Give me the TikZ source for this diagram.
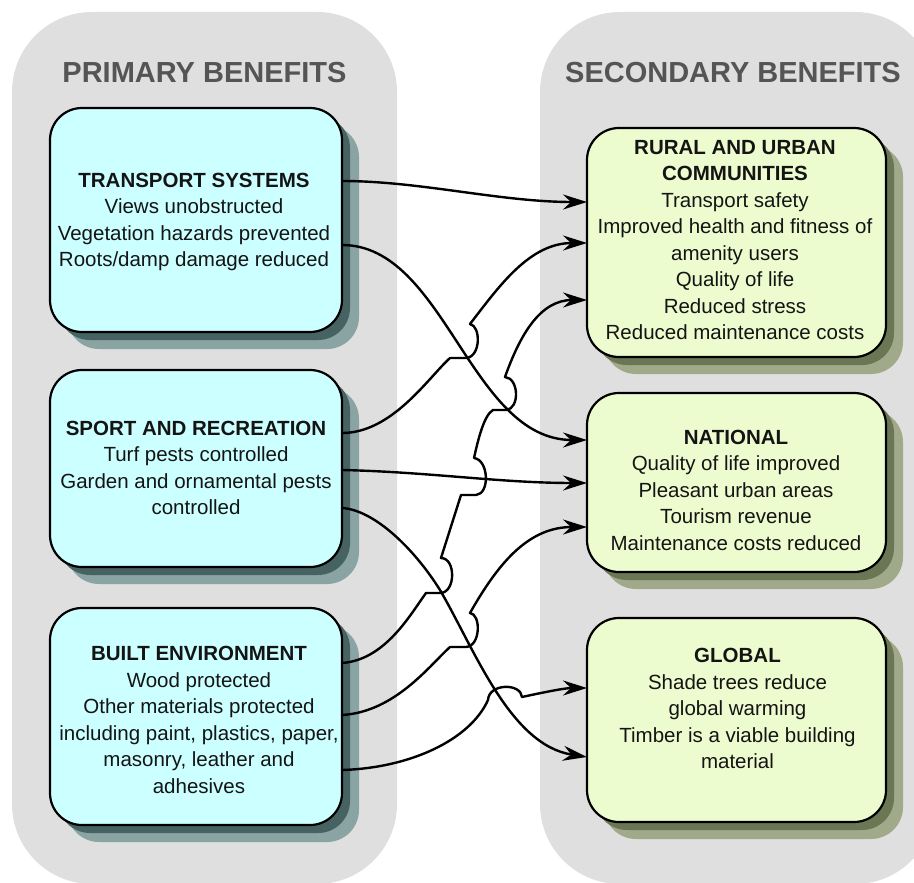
\documentclass[tikz,border=0pt]{standalone}
\usepackage{fontspec}
\setmainfont{Liberation Sans}
\usetikzlibrary{arrows.meta,shadows}
\definecolor{panel}{HTML}{DFDFDF}
\definecolor{cyanbox}{HTML}{CCFFFF}
\definecolor{greenbox}{HTML}{EDFCCF}
\definecolor{lshA}{HTML}{8AA4A4}
\definecolor{lshB}{HTML}{466262}
\definecolor{rshA}{HTML}{A0A98A}
\definecolor{rshB}{HTML}{6A7654}
\definecolor{hdr}{HTML}{555555}
\definecolor{txt}{HTML}{141414}
\begin{document}
\begin{tikzpicture}[x=1pt,y=-1pt,
  panelbox/.style={fill=panel, rounded corners=80pt},
  boxbase/.style={draw=black, line width=2.2pt, rounded corners=32pt, inner sep=0pt, outer sep=0pt},
  lbox/.style={boxbase, fill=cyanbox, minimum width=292pt,
     general shadow={fill=lshA, shadow xshift=17pt, shadow yshift=-17pt},
     general shadow={fill=lshB, shadow xshift=8pt, shadow yshift=-8pt}},
  rbox/.style={boxbase, fill=greenbox, minimum width=299pt,
     general shadow={fill=rshA, shadow xshift=17pt, shadow yshift=-17pt},
     general shadow={fill=rshB, shadow xshift=8pt, shadow yshift=-8pt}},
  btxt/.style={align=center, inner sep=0pt, text=txt, font=\fontsize{20.5}{26.5}\selectfont},
  hdrtxt/.style={inner sep=0pt, text=hdr, font=\fontsize{29}{34}\selectfont\bfseries},
  conn/.style={draw=black, line width=2.4pt, line join=round,
     -{Stealth[length=24pt,width=15pt,inset=8pt]}}
]
\useasboundingbox (0,0) rectangle (914,883);
\clip (0,0) rectangle (914,883);
% panels
\fill[panelbox] (12,12) rectangle (397,884);
\fill[panelbox] (540,12) rectangle (935,884);
\node[hdrtxt] (h1) at (204.5,73) {PRIMARY BENEFITS};
\node[hdrtxt] (h2) at (733,73) {SECONDARY BENEFITS};
% left boxes
\node[lbox, minimum height=224pt] (ts) at (196,220) {};
\node[lbox, minimum height=197pt] (sr) at (196,468.5) {};
\node[lbox, minimum height=217pt] (be) at (196,716.5) {};
% right boxes
\node[rbox, minimum height=229pt] (ru) at (736.5,242.5) {};
\node[rbox, minimum height=179pt] (na) at (736.5,482.5) {};
\node[rbox, minimum height=204pt] (gl) at (736.5,720) {};
% texts
\node[btxt] (ts-t) at (194,222) {\textbf{TRANSPORT SYSTEMS}\\Views unobstructed\\Vegetation hazards prevented\\Roots/damp damage reduced};
\node[btxt] (sr-t) at (196,468) {\textbf{SPORT AND RECREATION}\\Turf pests controlled\\Garden and ornamental pests\\controlled};
\node[btxt] (be-t) at (199,720) {\textbf{BUILT ENVIRONMENT}\\Wood protected\\Other materials protected\\including paint, plastics, paper,\\masonry, leather and\\adhesives};
\node[btxt] (ru-t) at (735,240) {\textbf{RURAL AND URBAN}\\\textbf{COMMUNITIES}\\Transport safety\\Improved health and fitness of\\amenity users\\Quality of life\\Reduced stress\\Reduced maintenance costs};
\node[btxt] (na-t) at (736,490) {\textbf{NATIONAL}\\Quality of life improved\\Pleasant urban areas\\Tourism revenue\\Maintenance costs reduced};
\node[btxt] (gl-t) at (737.5,708.5) {\textbf{GLOBAL}\\Shade trees reduce\\global warming\\Timber is a viable building\\material};
% connectors
\draw[conn] (ts.east |- 0,181) .. controls (420,181) and (500,202) .. (ru.west |- 0,202);
\draw[conn] (ts.east |- 0,245) .. controls (445,245) and (470,440) .. (na.west |- 0,440);
\draw[conn] (sr.east |- 0,433) .. controls (392,433) and (428,378) .. (450,358) -- (466,358)
   .. controls (481,357) and (481,326) .. (470,324)
   .. controls (500,285) and (530,243) .. (ru.west |- 0,243);
\draw[conn] (sr.east |- 0,470) .. controls (430,472) and (500,483) .. (na.west |- 0,483);
\draw[conn] (sr.east |- 0,508) .. controls (375,510) and (415,550) .. (440,590)
   .. controls (475,650) and (510,745) .. (gl.west |- 0,757);
\draw[conn] (be.east |- 0,663) .. controls (385,660) and (410,615) .. (426,593) -- (440,593)
   .. controls (456,593) and (456,558) .. (441,558) -- (461,495) -- (476,495)
   .. controls (490,494) and (489,460) .. (474,458)
   .. controls (478,440) and (484,415) .. (493,410) -- (506,410)
   .. controls (520,409) and (519,378) .. (505,377)
   .. controls (520,335) and (540,300) .. (ru.west |- 0,300);
\draw[conn] (be.east |- 0,715) .. controls (395,712) and (430,665) .. (450,647) -- (466,647)
   .. controls (481,646) and (481,614) .. (470,613)
   .. controls (500,560) and (530,527) .. (na.west |- 0,527);
\draw[conn] (be.east |- 0,770) .. controls (410,768) and (470,740) .. (488,700)
   .. controls (489,683) and (521,683) .. (522,697)
   .. controls (545,692) and (565,688) .. (gl.west |- 0,688);
\end{tikzpicture}
\end{document}
